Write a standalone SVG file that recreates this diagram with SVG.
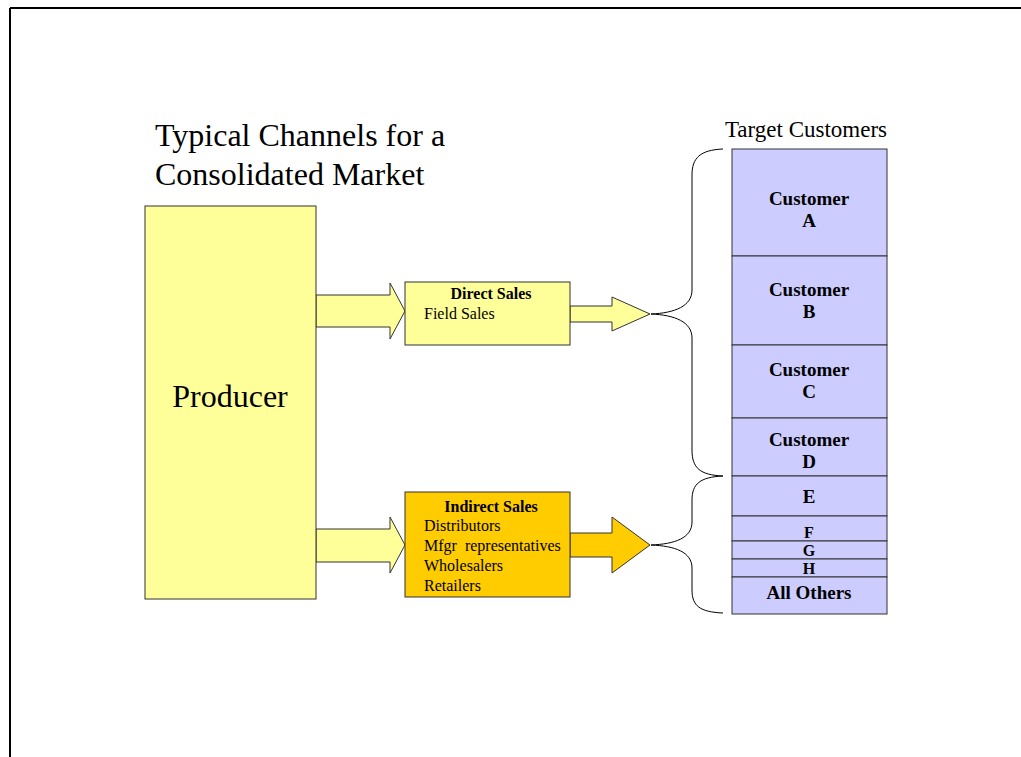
<svg xmlns="http://www.w3.org/2000/svg" width="1021" height="757" viewBox="0 0 1021 757">
<style>
text{font-family:"Liberation Serif","Times New Roman",serif;fill:#000}
.b{font-weight:bold;font-size:19px;text-anchor:middle}
.t{font-weight:bold;font-size:16px;text-anchor:middle}
.s{font-size:16px}
.sb{font-size:16px;font-weight:bold;text-anchor:middle}
.y{fill:#FFFF99;stroke:#333;stroke-width:1}
.o{fill:#FFCC00;stroke:#333;stroke-width:1}
.c{fill:#CCCCFF;stroke:#333;stroke-width:1}
.br{fill:none;stroke:#000;stroke-width:1}
</style>
<rect x="0" y="0" width="1021" height="757" fill="#fff"/>
<g id="frame">
<line x1="10" y1="8" x2="1021" y2="8" stroke="#000" stroke-width="2"/>
<line x1="10" y1="8" x2="10" y2="757" stroke="#000" stroke-width="2"/>
</g>
<g id="title">
<text x="155" y="146" font-size="32">Typical Channels for a</text>
<text x="155" y="185" font-size="32">Consolidated Market</text>
</g>
<g id="connectors">
<polygon class="y" points="316,295 390,295 390,283 405,311 390,339 390,327 316,327"/>
<polygon class="y" points="570,306 612,306 612,297 650,314 612,331 612,322 570,322"/>
<polygon class="y" points="316,529 390,529 390,517 405,545 390,573 390,562 316,562"/>
<polygon class="o" points="570,533 612,533 612,517 650,545 612,573 612,557 570,557"/>
<path class="br" d="M723,149 C700,150 692,158 692,175 L692,290 C692,306 675,313 651,314 C675,315 692,322 692,338 L692,450 C692,468 700,475 723,476"/>
<path class="br" d="M723,476 C700,477 692,484 692,500 L692,522 C692,538 675,544 651,545 C675,546 692,552 692,568 L692,590 C692,606 700,612 723,613"/>
</g>
<g id="producer">
<rect class="y" x="145" y="206" width="171" height="393"/>
<text x="230" y="407" font-size="32" text-anchor="middle">Producer</text>
</g>
<g id="direct">
<rect class="y" x="405" y="282" width="165" height="63"/>
<text class="sb" x="491" y="299">Direct Sales</text>
<text class="s" x="424" y="319">Field Sales</text>
</g>
<g id="indirect">
<rect class="o" x="405" y="492" width="165" height="105"/>
<text class="sb" x="491" y="512">Indirect Sales</text>
<text class="s" x="424" y="531">Distributors</text>
<text class="s" x="424" y="551" xml:space="preserve">Mfgr  representatives</text>
<text class="s" x="424" y="571">Wholesalers</text>
<text class="s" x="424" y="591">Retailers</text>
</g>
<text x="806" y="137" font-size="23" text-anchor="middle">Target Customers</text>
<g id="customerA"><rect class="c" x="732" y="149" width="155" height="107"/><text class="b" x="809" y="205">Customer</text><text class="b" x="809" y="227">A</text></g>
<g id="customerB"><rect class="c" x="732" y="256" width="155" height="89"/><text class="b" x="809" y="296">Customer</text><text class="b" x="809" y="318">B</text></g>
<g id="customerC"><rect class="c" x="732" y="345" width="155" height="73"/><text class="b" x="809" y="376">Customer</text><text class="b" x="809" y="398">C</text></g>
<g id="customerD"><rect class="c" x="732" y="418" width="155" height="58"/><text class="b" x="809" y="446">Customer</text><text class="b" x="809" y="468">D</text></g>
<g id="customerE"><rect class="c" x="732" y="476" width="155" height="40"/><text class="b" x="809" y="503">E</text></g>
<g id="customerF"><rect class="c" x="732" y="516" width="155" height="25"/><text class="t" x="809" y="538">F</text></g>
<g id="customerG"><rect class="c" x="732" y="541" width="155" height="18"/><text class="t" x="809" y="556">G</text></g>
<g id="customerH"><rect class="c" x="732" y="559" width="155" height="18"/><text class="t" x="809" y="574">H</text></g>
<g id="others"><rect class="c" x="732" y="577" width="155" height="37"/><text class="b" x="809" y="599">All Others</text></g>
</svg>
